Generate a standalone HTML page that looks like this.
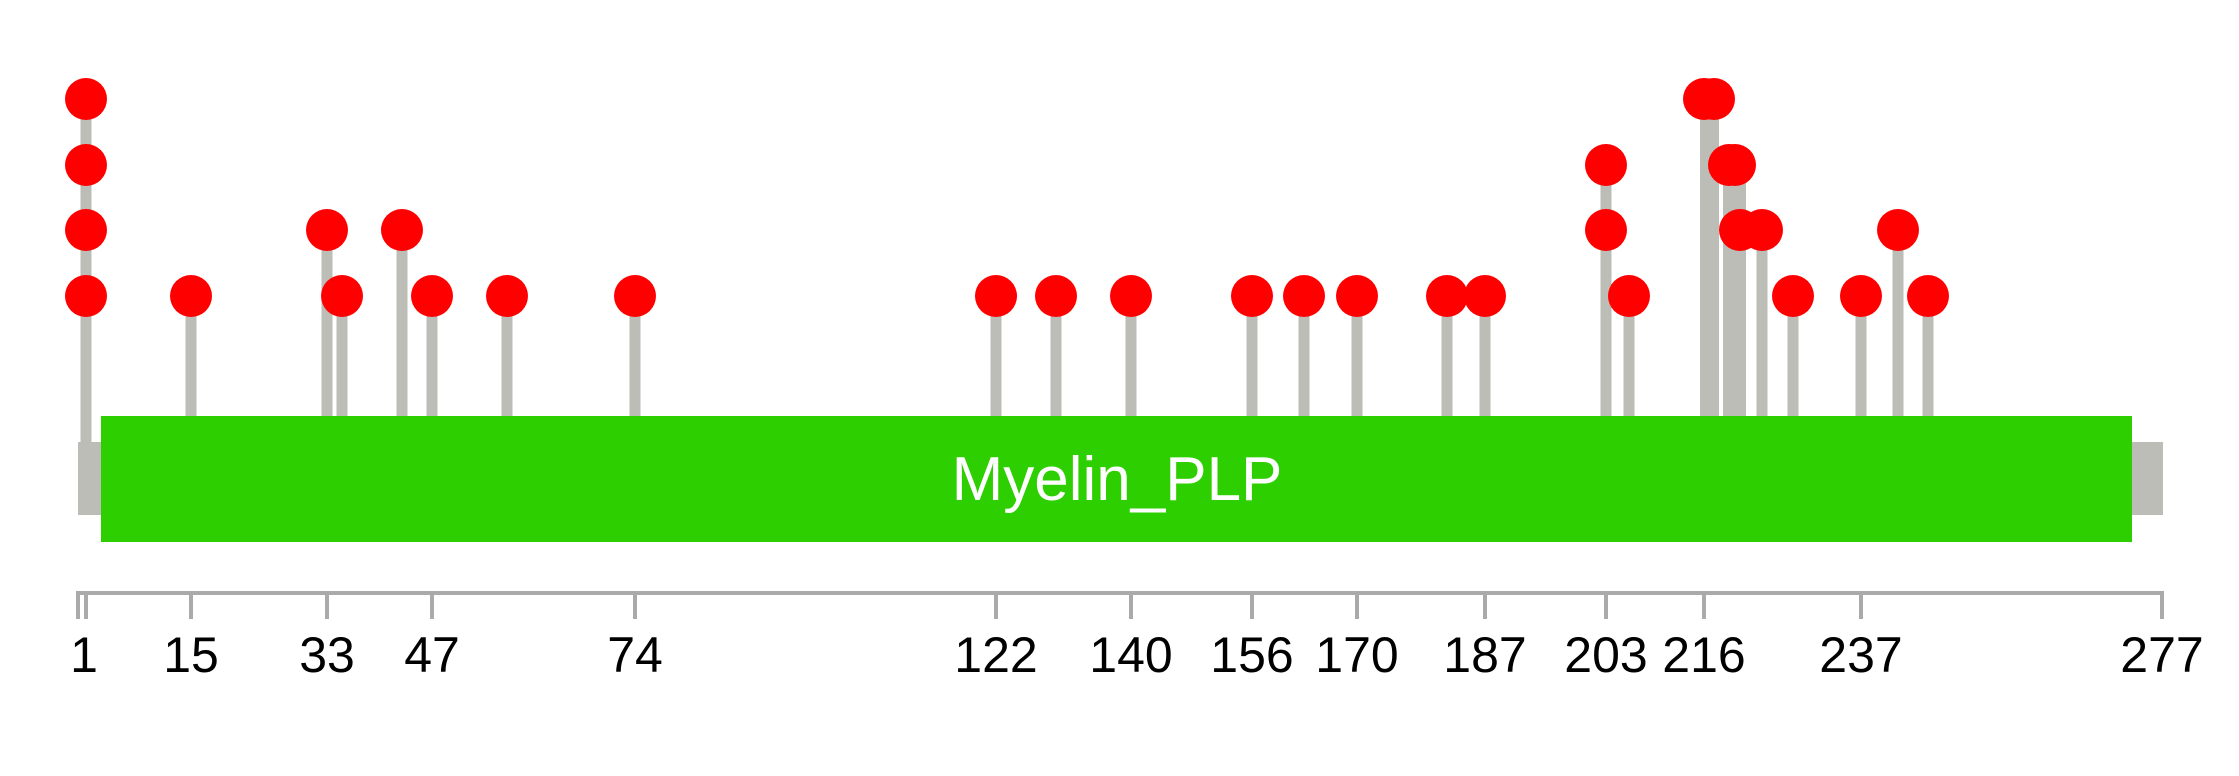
<!DOCTYPE html>
<html><head><meta charset="utf-8"><style>
html,body{margin:0;padding:0;background:#fff;}
svg{display:block;}
</style></head><body>
<svg width="2239" height="776" viewBox="0 0 2239 776" xmlns="http://www.w3.org/2000/svg">
<g fill="#bbbdb6">
<rect x="80.5" y="99" width="11" height="345"/>
<rect x="185.5" y="296" width="11" height="122"/>
<rect x="321.5" y="230" width="11" height="188"/>
<rect x="336.5" y="296" width="11" height="122"/>
<rect x="396.5" y="230" width="11" height="188"/>
<rect x="426.5" y="296" width="11" height="122"/>
<rect x="501.5" y="296" width="11" height="122"/>
<rect x="629.5" y="296" width="11" height="122"/>
<rect x="990.5" y="296" width="11" height="122"/>
<rect x="1050.5" y="296" width="11" height="122"/>
<rect x="1125.5" y="296" width="11" height="122"/>
<rect x="1246.5" y="296" width="11" height="122"/>
<rect x="1298.5" y="296" width="11" height="122"/>
<rect x="1351.5" y="296" width="11" height="122"/>
<rect x="1441.5" y="296" width="11" height="122"/>
<rect x="1479.5" y="296" width="11" height="122"/>
<rect x="1600.5" y="165" width="11" height="253"/>
<rect x="1623.5" y="296" width="11" height="122"/>
<rect x="1700" y="99" width="19" height="319"/>
<rect x="1723" y="165" width="23" height="253"/>
<rect x="1756.5" y="230" width="11" height="188"/>
<rect x="1787.5" y="296" width="11" height="122"/>
<rect x="1855.5" y="296" width="11" height="122"/>
<rect x="1892.5" y="230" width="11" height="188"/>
<rect x="1922.5" y="296" width="11" height="122"/>
<rect x="78" y="442" width="2085" height="73"/>
</g>
<rect x="101" y="416" width="2031" height="126" fill="#2ecf00"/>
<text x="1117" y="500" font-family="Liberation Sans, sans-serif" font-size="62" fill="#fff" text-anchor="middle">Myelin_PLP</text>
<g fill="#ff0000">
<circle cx="86" cy="99" r="21"/><circle cx="86" cy="165" r="21"/><circle cx="86" cy="230" r="21"/><circle cx="86" cy="296" r="21"/>
<circle cx="191" cy="296" r="21"/>
<circle cx="327" cy="230" r="21"/><circle cx="342" cy="296" r="21"/>
<circle cx="402" cy="230" r="21"/><circle cx="432" cy="296" r="21"/>
<circle cx="507" cy="296" r="21"/><circle cx="635" cy="296" r="21"/>
<circle cx="996" cy="296" r="21"/><circle cx="1056" cy="296" r="21"/><circle cx="1131" cy="296" r="21"/>
<circle cx="1252" cy="296" r="21"/><circle cx="1304" cy="296" r="21"/><circle cx="1357" cy="296" r="21"/>
<circle cx="1447" cy="296" r="21"/><circle cx="1485" cy="296" r="21"/>
<circle cx="1606" cy="230" r="21"/><circle cx="1606" cy="165" r="21"/><circle cx="1629" cy="296" r="21"/>
<circle cx="1704" cy="99" r="21"/><circle cx="1714" cy="99" r="21"/>
<circle cx="1729" cy="165" r="21"/><circle cx="1735" cy="165" r="21"/>
<circle cx="1740" cy="230" r="21"/><circle cx="1762" cy="230" r="21"/>
<circle cx="1793" cy="296" r="21"/><circle cx="1861" cy="296" r="21"/>
<circle cx="1898" cy="230" r="21"/><circle cx="1928" cy="296" r="21"/>
</g>
<g fill="#aaaaaa">
<rect x="78" y="591" width="2086" height="4"/>
<rect x="76" y="591" width="4" height="28"/>
<rect x="84" y="591" width="4" height="28"/>
<rect x="189" y="591" width="4" height="28"/>
<rect x="325" y="591" width="4" height="28"/>
<rect x="430" y="591" width="4" height="28"/>
<rect x="633" y="591" width="4" height="28"/>
<rect x="994" y="591" width="4" height="28"/>
<rect x="1129" y="591" width="4" height="28"/>
<rect x="1250" y="591" width="4" height="28"/>
<rect x="1355" y="591" width="4" height="28"/>
<rect x="1483" y="591" width="4" height="28"/>
<rect x="1604" y="591" width="4" height="28"/>
<rect x="1702" y="591" width="4" height="28"/>
<rect x="1859" y="591" width="4" height="28"/>
<rect x="2160" y="591" width="4" height="28"/>
</g>
<g font-family="Liberation Sans, sans-serif" font-size="50" fill="#000" text-anchor="middle">
<text x="84" y="672">1</text>
<text x="191" y="672">15</text>
<text x="327" y="672">33</text>
<text x="432" y="672">47</text>
<text x="635" y="672">74</text>
<text x="996" y="672">122</text>
<text x="1131" y="672">140</text>
<text x="1252" y="672">156</text>
<text x="1357" y="672">170</text>
<text x="1485" y="672">187</text>
<text x="1606" y="672">203</text>
<text x="1704" y="672">216</text>
<text x="1861" y="672">237</text>
<text x="2162" y="672">277</text>
</g>
</svg>
</body></html>
